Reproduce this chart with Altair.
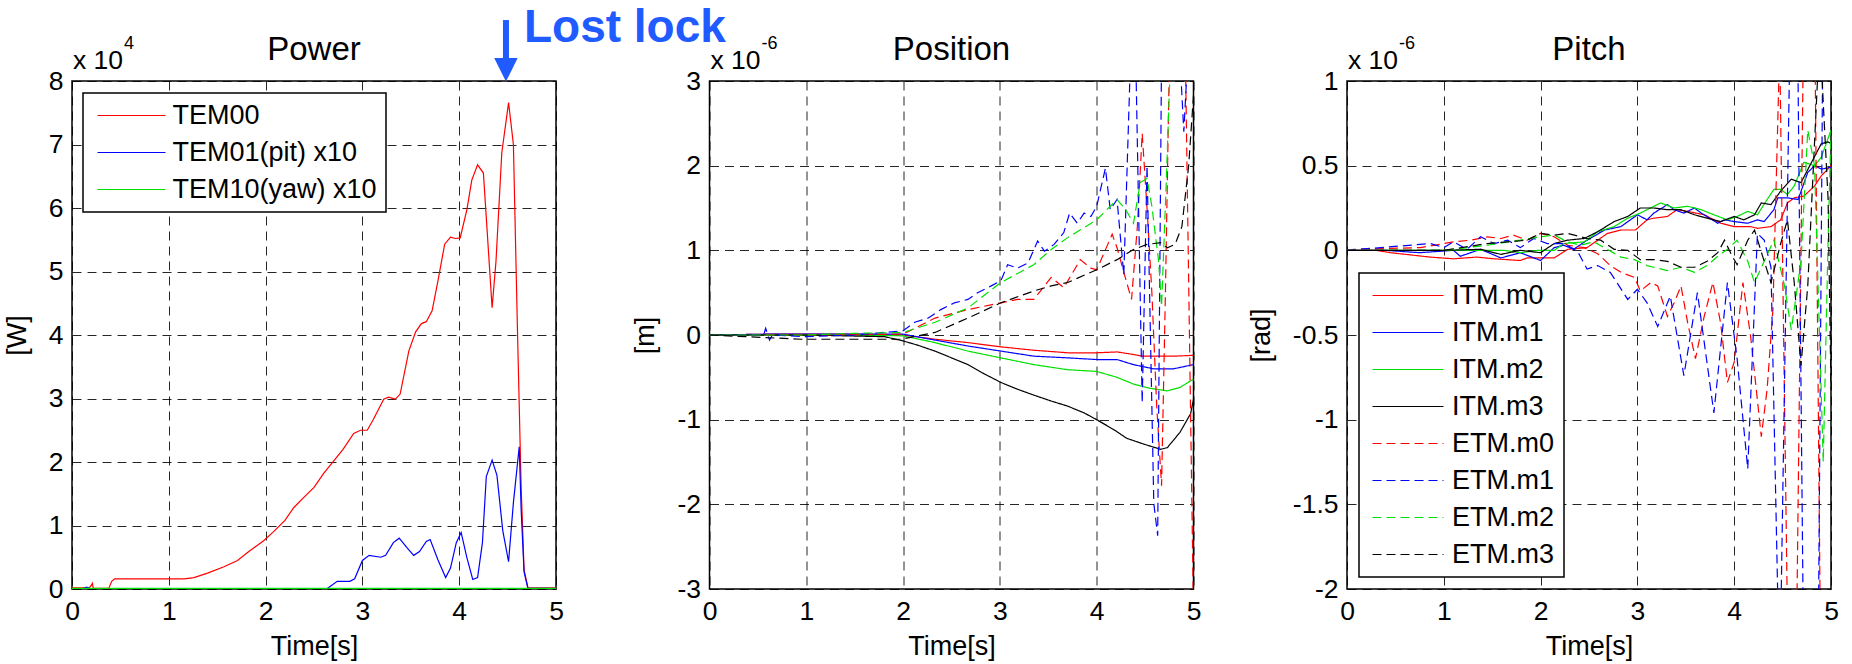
import altair as alt
import pandas as pd

FONT = "Liberation Sans"
RED, BLUE, GREEN, BLACK = "#ff0000", "#0000ff", "#00e000", "#000000"
NOTE_BLUE = "#1f5bff"

time_ticks = [0, 1, 2, 3, 4, 5]
power_ticks = [0, 1, 2, 3, 4, 5, 6, 7, 8]
position_ticks = [-3, -2, -1, 0, 1, 2, 3]
pitch_ticks = [-2, -1.5, -1, -0.5, 0, 0.5, 1]

# ---------------- Power (x 10^4 W) ----------------
power_names = ["TEM00", "TEM01(pit) x10", "TEM10(yaw) x10"]
tem00_t = [0, 0.18, 0.2, 0.21, 0.22, 0.38, 0.41, 0.44, 1.16, 1.26, 1.4, 1.57, 1.71, 1.81, 1.98, 2.08,
           2.2, 2.29, 2.4, 2.5, 2.6, 2.7, 2.8, 2.91, 2.98, 3.05, 3.11, 3.22, 3.27, 3.34, 3.39, 3.48,
           3.55, 3.61, 3.66, 3.72, 3.78, 3.85, 3.91, 3.96, 4.01, 4.08, 4.13, 4.19, 4.25, 4.34, 4.38,
           4.44, 4.51, 4.56, 4.6, 4.64, 4.67, 4.71, 5.0]
tem00_v = [0.02, 0.02, 0.06, 0.09, 0.01, 0.01, 0.12, 0.16, 0.16, 0.18, 0.25, 0.35, 0.45, 0.57, 0.76, 0.9,
           1.08, 1.28, 1.45, 1.6, 1.82, 2.01, 2.2, 2.45, 2.5, 2.5, 2.66, 2.99, 3.02, 2.99, 3.07, 3.75,
           4.05, 4.18, 4.21, 4.38, 4.85, 5.43, 5.54, 5.52, 5.53, 5.98, 6.44, 6.68, 6.55, 4.43, 5.16,
           6.87, 7.66, 7.0, 4.2, 1.6, 0.3, 0.02, 0.02]
tem01_t = [0, 0.1, 0.15, 0.2, 2.63, 2.74, 2.87, 2.92, 3.0, 3.07, 3.19, 3.24, 3.32, 3.38, 3.46, 3.53,
           3.59, 3.66, 3.7, 3.78, 3.86, 3.91, 3.97, 4.02, 4.08, 4.14, 4.19, 4.24, 4.28, 4.34, 4.39,
           4.45, 4.51, 4.56, 4.62, 4.64, 4.67, 4.71, 5.0]
tem01_v = [0, 0, 0.03, 0.0, 0.0, 0.12, 0.12, 0.16, 0.45, 0.53, 0.5, 0.53, 0.73, 0.8, 0.65, 0.53,
           0.59, 0.75, 0.78, 0.46, 0.18, 0.33, 0.73, 0.89, 0.49, 0.15, 0.18, 0.73, 1.77, 2.03, 1.79,
           0.92, 0.43, 1.36, 2.24, 1.25, 0.27, 0.01, 0.01]
tem10_t = [0, 2.5, 5.0]
tem10_v = [0.01, 0.01, 0.01]

# ---------------- Position (x 10^-6 m) ----------------
mirror_names = ["ITM.m0", "ITM.m1", "ITM.m2", "ITM.m3", "ETM.m0", "ETM.m1", "ETM.m2", "ETM.m3"]
pos_itm0_t = [0, 0.6, 1.0, 1.5, 2.0, 2.33, 2.67, 3.01, 3.35, 3.7, 4.0, 4.21, 4.38, 4.47, 4.8, 5.0]
pos_itm0_v = [0, 0.01, 0.01, 0.01, 0.0, -0.05, -0.09, -0.14, -0.18, -0.21, -0.21, -0.2, -0.23, -0.25, -0.25, -0.24]
pos_itm1_t = [0, 0.6, 1.0, 1.5, 2.0, 2.33, 2.67, 3.01, 3.35, 3.7, 4.0, 4.21, 4.38, 4.59, 4.79, 5.0]
pos_itm1_v = [0, 0.01, 0.01, 0.01, 0.01, -0.06, -0.13, -0.19, -0.25, -0.27, -0.29, -0.29, -0.35, -0.4, -0.4, -0.35]
pos_itm2_t = [0, 1.0, 1.5, 2.0, 2.33, 2.67, 3.01, 3.35, 3.7, 4.0, 4.21, 4.38, 4.55, 4.73, 4.86, 5.0]
pos_itm2_v = [0, 0.0, 0.0, -0.01, -0.09, -0.19, -0.27, -0.35, -0.41, -0.43, -0.5, -0.58, -0.63, -0.66, -0.62, -0.52]
pos_itm3_t = [0, 1.0, 1.81, 2.0, 2.15, 2.33, 2.5, 2.67, 2.84, 3.01, 3.18, 3.35, 3.53, 3.7, 3.87, 4.0,
              4.18, 4.31, 4.49, 4.66, 4.73, 4.86, 4.97, 5.0]
pos_itm3_v = [0, 0, -0.02, -0.07, -0.12, -0.19, -0.27, -0.35, -0.46, -0.56, -0.64, -0.71, -0.78, -0.84,
              -0.92, -1.0, -1.12, -1.22, -1.29, -1.35, -1.33, -1.15, -0.93, -0.76]
pos_etm0_t = [0, 1.0, 2.0, 2.33, 2.67, 3.01, 3.18, 3.35, 3.53, 3.66, 3.77, 3.83, 3.94, 4.0, 4.16, 4.21,
              4.3, 4.36, 4.42, 4.47, 4.52, 4.57, 4.62, 4.67, 4.71, 4.75, 4.85, 4.92, 5.0]
pos_etm0_v = [0, 0, 0.01, 0.2, 0.3, 0.38, 0.42, 0.42, 0.68, 0.56, 0.77, 0.89, 0.79, 0.77, 1.19, 1.03,
              0.66, 0.42, 1.28, 2.38, 1.5, 0.5, -0.84, -1.78, 0.5, 3.2, 4.0, 3.0, -3.3]
pos_etm1_t = [0, 0.5, 0.56, 0.58, 0.62, 0.65, 1.0, 1.5, 2.0, 2.12, 2.26, 2.39, 2.53, 2.67, 2.77, 2.91,
              3.01, 3.08, 3.18, 3.29, 3.39, 3.46, 3.56, 3.66, 3.72, 3.8, 3.87, 3.94, 4.0, 4.09, 4.14,
              4.21, 4.28, 4.35, 4.4, 4.47, 4.52, 4.59, 4.63, 4.67, 4.75, 4.85, 4.9, 4.95, 5.0]
pos_etm1_v = [0, 0, 0.0, 0.08, -0.06, 0.0, -0.02, 0.0, 0.05, 0.15, 0.2, 0.3, 0.38, 0.42, 0.5, 0.58,
              0.64, 0.83, 0.79, 0.85, 1.11, 0.99, 1.07, 1.21, 1.44, 1.32, 1.44, 1.4, 1.52, 1.97, 1.48,
              1.6, 0.71, 3.3, 3.5, -0.8, 2.0, -1.99, -2.37, 3.3, 3.8, 3.5, 2.4, 3.5, 3.8]
pos_etm2_t = [0, 1.0, 1.5, 2.0, 2.33, 2.67, 3.01, 3.35, 3.53, 3.7, 4.0, 4.21, 4.3, 4.38, 4.45, 4.52,
              4.57, 4.64, 4.67, 4.72, 4.76, 4.85, 5.0]
pos_etm2_v = [0, 0.0, 0.02, 0.03, 0.15, 0.32, 0.62, 0.83, 1.01, 1.15, 1.36, 1.6, 1.48, 1.32, 1.8, 1.85,
              1.52, 0.87, 0.34, 1.85, 3.2, 3.8, 3.8]
pos_etm3_t = [0, 0.95, 1.98, 2.33, 2.67, 3.01, 3.35, 3.53, 3.7, 4.0, 4.21, 4.38, 4.52, 4.66, 4.73, 4.81,
              4.88, 4.95, 5.0]
pos_etm3_v = [0, -0.05, -0.05, 0.03, 0.2, 0.38, 0.52, 0.58, 0.62, 0.77, 0.89, 1.01, 1.07, 1.09, 1.03,
              1.07, 1.28, 2.0, 2.83]

# ---------------- Pitch (x 10^-6 rad) ----------------
pit_itm0_t = [0, 0.3, 0.45, 0.86, 1.1, 1.34, 1.52, 1.79, 1.86, 2.14, 2.28, 2.48, 2.69, 2.83, 2.98, 3.1,
              3.17, 3.31, 3.41, 3.52, 3.69, 3.86, 4.0, 4.17, 4.24, 4.38, 4.48, 4.55, 4.62, 4.72, 4.83,
              4.9, 5.0]
pit_itm0_v = [0, 0, -0.014, -0.04, -0.05, -0.04, -0.05, -0.06, -0.045, -0.045, 0.006, 0.016, 0.1, 0.12,
              0.12, 0.18, 0.19, 0.2, 0.24, 0.23, 0.21, 0.16, 0.14, 0.14, 0.13, 0.14, 0.18, 0.28, 0.31,
              0.32, 0.38, 0.44, 0.5]
pit_itm1_t = [0, 0.4, 0.75, 1.1, 1.17, 1.38, 1.59, 1.79, 2.0, 2.14, 2.24, 2.34, 2.48, 2.66, 2.83, 3.0,
              3.1, 3.17, 3.31, 3.38, 3.48, 3.59, 3.66, 3.83, 3.9, 4.0, 4.14, 4.24, 4.31, 4.41, 4.45,
              4.55, 4.66, 4.76, 4.83, 4.9, 5.0]
pit_itm1_v = [0, 0, -0.014, 0.0, -0.035, 0.006, -0.045, -0.014, -0.06, 0.016, 0.03, 0.006, 0.06, 0.12,
              0.14, 0.21, 0.18, 0.22, 0.27, 0.24, 0.22, 0.25, 0.22, 0.16, 0.18, 0.17, 0.16, 0.18, 0.17,
              0.24, 0.31, 0.31, 0.3, 0.46, 0.5, 0.48, 0.49]
pit_itm2_t = [0, 1.0, 1.62, 1.79, 1.97, 2.14, 2.24, 2.45, 2.59, 2.76, 2.9, 3.03, 3.17, 3.24, 3.38, 3.52,
              3.66, 3.79, 3.93, 4.03, 4.14, 4.24, 4.34, 4.41, 4.48, 4.55, 4.62, 4.72, 4.83, 4.9, 5.0]
pit_itm2_v = [0, 0, 0, -0.014, 0, 0, 0.04, 0.05, 0.11, 0.14, 0.19, 0.22, 0.26, 0.28, 0.25, 0.26, 0.24,
              0.21, 0.18, 0.2, 0.23, 0.21, 0.3, 0.36, 0.36, 0.33, 0.38, 0.52, 0.5, 0.55, 0.71]
pit_itm3_t = [0, 1.0, 1.38, 1.59, 1.79, 2.0, 2.14, 2.28, 2.45, 2.59, 2.76, 2.9, 3.03, 3.17, 3.31, 3.45,
              3.59, 3.72, 3.86, 4.0, 4.1, 4.21, 4.28, 4.38, 4.48, 4.59, 4.69, 4.79, 4.9, 4.97, 5.0]
pit_itm3_v = [0, 0, 0.006, -0.024, 0, -0.014, 0.04, 0.06, 0.07, 0.11, 0.17, 0.2, 0.25, 0.25, 0.24, 0.24,
              0.21, 0.19, 0.17, 0.2, 0.18, 0.21, 0.28, 0.27, 0.35, 0.42, 0.4, 0.51, 0.63, 0.64, 0.63]
pit_etm0_t = [0, 0.07, 0.76, 1.1, 1.28, 1.45, 1.59, 1.72, 1.86, 2.0, 2.14, 2.28, 2.45, 2.59, 2.72, 2.83,
              2.97, 3.03, 3.14, 3.21, 3.31, 3.38, 3.45, 3.52, 3.6, 3.69, 3.78, 3.86, 3.93, 4.0, 4.09,
              4.17, 4.28, 4.34, 4.4, 4.47, 4.57, 4.62, 4.72, 4.83, 4.91, 5.0]
pit_etm0_v = [0, 0.006, 0.016, 0.05, 0.06, 0.08, 0.07, 0.09, 0.06, 0.1, 0.08, 0.03, 0.016, -0.02, -0.09,
              -0.13, -0.16, -0.24, -0.19, -0.21, -0.39, -0.31, -0.21, -0.43, -0.64, -0.39, -0.19, -0.43,
              -0.78, -0.66, -0.19, -0.51, -1.1, -0.82, -0.35, 1.2, -3.0, -3.5, 1.5, 1.5, -3.5, -3.5]
pit_etm1_t = [0, 0.86, 1.0, 1.1, 1.24, 1.38, 1.52, 1.66, 1.79, 1.93, 2.07, 2.24, 2.38, 2.48, 2.59, 2.72,
              2.9, 3.0, 3.1, 3.21, 3.34, 3.48, 3.62, 3.79, 3.93, 4.03, 4.14, 4.24, 4.31, 4.38, 4.47,
              4.58, 4.65, 4.73, 4.86, 4.92, 5.0]
pit_etm1_v = [0, 0.04, 0.016, 0.05, 0.006, 0.08, 0.04, 0.06, 0.016, 0.07, 0.04, 0.04, -0.004, -0.11,
              -0.09, -0.13, -0.29, -0.23, -0.31, -0.45, -0.27, -0.74, -0.25, -0.96, -0.19, -0.64, -1.29,
              0.1, 0.06, -0.1, -2.6, 1.4, 1.6, -3.2, -3.0, 1.6, 1.2]
pit_etm2_t = [0, 1.0, 1.45, 1.66, 1.79, 2.0, 2.14, 2.28, 2.41, 2.55, 2.69, 2.83, 2.97, 3.1, 3.31, 3.45,
              3.59, 3.72, 3.83, 3.93, 4.03, 4.14, 4.21, 4.31, 4.41, 4.52, 4.59, 4.69, 4.76, 4.83, 4.92,
              4.97, 5.0]
pit_etm2_v = [0, 0, 0.03, 0.05, 0.06, 0.08, 0.09, 0.05, 0.03, 0.05, 0.006, -0.04, -0.055, -0.09, -0.12,
              -0.1, -0.13, -0.09, -0.035, 0.006, 0.06, -0.065, -0.19, -0.065, 0.06, -0.21, -0.47, -0.065,
              0.71, 0.5, -1.25, 0.06, 0.71]
pit_etm3_t = [0, 1.0, 1.45, 1.66, 1.86, 2.0, 2.14, 2.28, 2.48, 2.62, 2.76, 2.9, 3.03, 3.17, 3.31, 3.45,
              3.59, 3.72, 3.83, 3.9, 3.97, 4.03, 4.14, 4.21, 4.31, 4.38, 4.48, 4.55, 4.62, 4.69, 4.76,
              4.86, 4.9, 4.97, 5.0]
pit_etm3_v = [0, 0, 0.04, 0.05, 0.06, 0.1, 0.09, 0.1, 0.07, 0.06, 0.006, 0, -0.055, -0.055, -0.065, -0.1,
              -0.1, -0.065, -0.014, 0.06, -0.024, -0.085, 0.06, 0.12, -0.065, -0.19, 0.04, 0.18, -0.19,
              -0.68, -0.21, 1.0, 1.1, 0.3, -0.82]


def long_frame(names, ts, vs):
    rows = []
    for name, t_list, v_list in zip(names, ts, vs):
        for a, b in zip(t_list, v_list):
            rows.append({"series": name, "t": a, "v": b})
    return pd.DataFrame(rows)


power_df = long_frame(power_names, [tem00_t, tem01_t, tem10_t], [tem00_v, tem01_v, tem10_v])
position_df = long_frame(
    mirror_names,
    [pos_itm0_t, pos_itm1_t, pos_itm2_t, pos_itm3_t, pos_etm0_t, pos_etm1_t, pos_etm2_t, pos_etm3_t],
    [pos_itm0_v, pos_itm1_v, pos_itm2_v, pos_itm3_v, pos_etm0_v, pos_etm1_v, pos_etm2_v, pos_etm3_v],
)
pitch_df = long_frame(
    mirror_names,
    [pit_itm0_t, pit_itm1_t, pit_itm2_t, pit_itm3_t, pit_etm0_t, pit_etm1_t, pit_etm2_t, pit_etm3_t],
    [pit_itm0_v, pit_itm1_v, pit_itm2_v, pit_itm3_v, pit_etm0_v, pit_etm1_v, pit_etm2_v, pit_etm3_v],
)

mirror_colors = [RED, BLUE, GREEN, BLACK, RED, BLUE, GREEN, BLACK]
SOLID, DASH = [1, 0], [9, 5]
mirror_dashes = [SOLID] * 4 + [DASH] * 4

W, H = 484, 508
one = pd.DataFrame({"k": [0]})

AX = dict(grid=True, gridColor="#000000", gridDash=[9, 6], gridOpacity=0.85, gridWidth=1,
          ticks=False, domain=False, labelFont=FONT, labelFontSize=26.5, labelColor="#000000",
          labelPadding=9, labelFlush=False, labelOverlap=False, labelExpr="'' + datum.value",
          titleFont=FONT, titleFontSize=27, titleFontWeight="normal", titleColor="#000000")


def x_enc():
    return alt.X("t:Q", scale=alt.Scale(domain=[0, 5], nice=False, zero=False),
                 axis=alt.Axis(values=time_ticks, title="Time[s]", titlePadding=9, **AX))


def y_enc(domain, ticks, title):
    return alt.Y("v:Q", scale=alt.Scale(domain=domain, nice=False, zero=False),
                 axis=alt.Axis(values=ticks, title=title, titlePadding=17, **AX))


def make_legend(lx, ly, half, sym_off, lab_off):
    return alt.Legend(orient="none", legendX=lx, legendY=ly, title=None,
                      symbolType="M-%s,0H%s" % (half, half), symbolSize=100,
                      symbolStrokeWidth=1.2, symbolOffset=sym_off, labelOffset=lab_off,
                      labelFont=FONT, labelFontSize=27, labelColor="#000000", labelLimit=600,
                      padding=9, rowPadding=9, strokeColor="#000000", fillColor="#ffffff",
                      cornerRadius=0)


def text_at(text, x, y, size, align="left", dx=0, dy=0, weight="normal", color="#000000"):
    return alt.Chart(one).mark_text(text=text, font=FONT, fontSize=size, align=align,
                                    baseline="alphabetic", dx=dx, dy=dy, fontWeight=weight,
                                    color=color).encode(x=alt.datum(x), y=alt.datum(y))


def header(title, top, exponent):
    return [
        text_at(title, 2.5, top, 33, align="center", dy=-21),
        text_at("x 10", 0, top, 26.5, dx=1, dy=-12),
        text_at(exponent, 0, top, 18, dx=52, dy=-32),
    ]


# ---- Power panel
p_leg = make_legend(11, 12, 6.8, 26, 27.5)
power_lines = alt.Chart(power_df).mark_line(strokeWidth=1.2, clip=True).encode(
    x=x_enc(), y=y_enc([0, 8], power_ticks, "[W]"),
    color=alt.Color("series:N", scale=alt.Scale(domain=power_names, range=[RED, BLUE, GREEN]),
                    legend=p_leg),
)
arrow_shaft = alt.Chart(one).mark_rule(color=NOTE_BLUE, strokeWidth=6).encode(
    x=alt.datum(4.483), y=alt.datum(8.96), y2=alt.datum(8.315))
arrow_head = alt.Chart(one).mark_point(shape="M-1,-1L1,-1L0,1Z", filled=True, size=552,
                                       color=NOTE_BLUE, opacity=1, strokeWidth=0).encode(
    x=alt.datum(4.483), y=alt.datum(8.177))
lost_lock = text_at("Lost lock", 4.669, 8.62, 46, weight="bold", color=NOTE_BLUE)
anchor = alt.Chart(one).mark_rule(stroke="#ffffff", strokeWidth=0, opacity=0).encode(
    x=alt.value(-71), x2=alt.value(-71), y=alt.value(-80), y2=alt.value(-80))

power_panel = alt.layer(power_lines, *header("Power", 8, "4"), arrow_shaft, arrow_head,
                        lost_lock, anchor).properties(width=W, height=H)

# ---- Position panel
position_lines = alt.Chart(position_df).mark_line(strokeWidth=1.2, clip=True).encode(
    x=x_enc(), y=y_enc([-3, 3], position_ticks, "[m]"),
    color=alt.Color("series:N", scale=alt.Scale(domain=mirror_names, range=mirror_colors), legend=None),
    strokeDash=alt.StrokeDash("series:N", scale=alt.Scale(domain=mirror_names, range=mirror_dashes),
                              legend=None),
)
position_panel = alt.layer(position_lines, *header("Position", 3, "-6")).properties(width=W, height=H)

# ---- Pitch panel
m_leg = make_legend(12, 192, 7.1, 26.5, 30.5)
pitch_lines = alt.Chart(pitch_df).mark_line(strokeWidth=1.2, clip=True).encode(
    x=x_enc(), y=y_enc([-2, 1], pitch_ticks, "[rad]"),
    color=alt.Color("series:N", scale=alt.Scale(domain=mirror_names, range=mirror_colors), legend=m_leg),
    strokeDash=alt.StrokeDash("series:N", scale=alt.Scale(domain=mirror_names, range=mirror_dashes),
                              legend=m_leg),
)
pitch_panel = alt.layer(pitch_lines, *header("Pitch", 1, "-6")).properties(width=W, height=H)

chart = (
    alt.hconcat(power_panel, position_panel, pitch_panel, spacing=153.5, bounds="flush")
    .resolve_scale(color="independent", strokeDash="independent")
    .resolve_legend(color="independent", strokeDash="independent")
    .properties(padding=0, autosize=alt.AutoSizeParams(type="pad"), background="#ffffff")
    .configure_view(stroke="#000000", strokeWidth=1.5)
    .configure_legend(strokeWidth=1.5)
)

chart.save("out.html", embed_options={"renderer": "svg", "actions": False})
